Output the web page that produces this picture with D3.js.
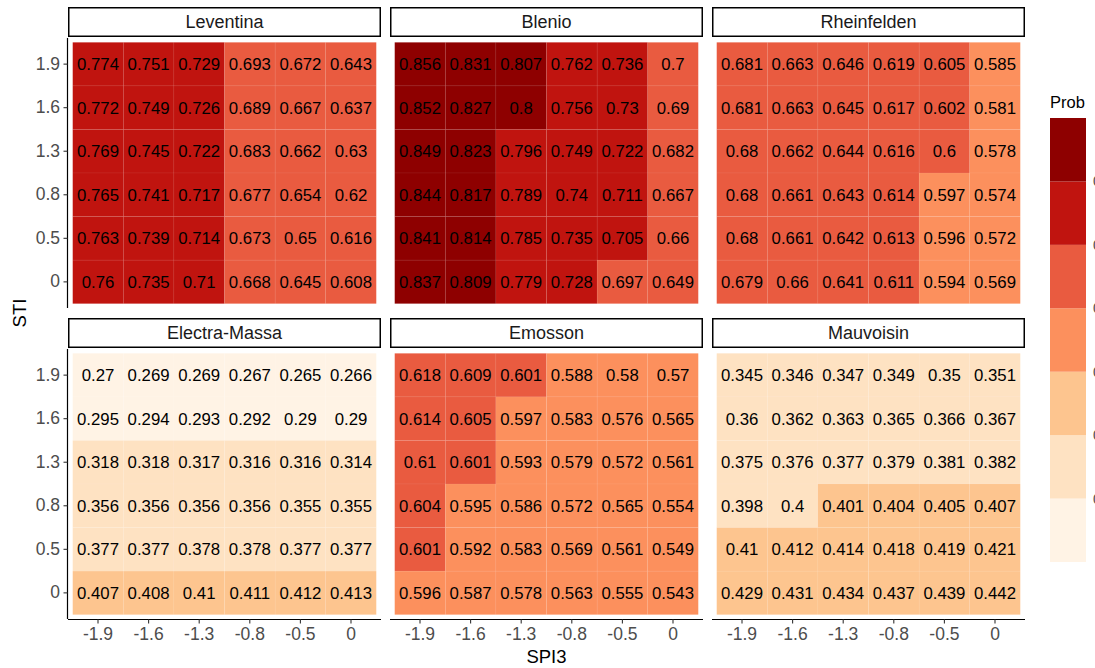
<!DOCTYPE html>
<html>
<head>
<meta charset="utf-8">
<script src="https://cdn.jsdelivr.net/npm/d3@7"></script>
<style>
  body { margin: 0; background: #fff; }
  svg { font-family: "Liberation Sans", Arial, sans-serif; display: block; }
</style>
</head>
<body>
<div id="wrapper"></div>
<script>
// axis categories
const spi3 = ["-1.9", "-1.6", "-1.3", "-0.8", "-0.5", "0"];
const sti = ["1.9", "1.6", "1.3", "0.8", "0.5", "0"];   // top to bottom
const sites = ["Leventina", "Blenio", "Rheinfelden", "Electra-Massa", "Emosson", "Mauvoisin"];

// values, rows follow sti (1.9 ... 0), columns follow spi3 (-1.9 ... 0)
const leventina = [
  [0.774, 0.751, 0.729, 0.693, 0.672, 0.643],
  [0.772, 0.749, 0.726, 0.689, 0.667, 0.637],
  [0.769, 0.745, 0.722, 0.683, 0.662, 0.63],
  [0.765, 0.741, 0.717, 0.677, 0.654, 0.62],
  [0.763, 0.739, 0.714, 0.673, 0.65, 0.616],
  [0.76, 0.735, 0.71, 0.668, 0.645, 0.608]
];
const blenio = [
  [0.856, 0.831, 0.807, 0.762, 0.736, 0.6996],
  [0.852, 0.827, 0.8, 0.756, 0.73, 0.69],
  [0.849, 0.823, 0.796, 0.749, 0.722, 0.682],
  [0.844, 0.817, 0.789, 0.74, 0.711, 0.667],
  [0.841, 0.814, 0.785, 0.735, 0.705, 0.66],
  [0.837, 0.809, 0.779, 0.728, 0.697, 0.649]
];
const rheinfelden = [
  [0.681, 0.663, 0.646, 0.619, 0.605, 0.585],
  [0.681, 0.663, 0.645, 0.617, 0.602, 0.581],
  [0.68, 0.662, 0.644, 0.616, 0.6, 0.578],
  [0.68, 0.661, 0.643, 0.614, 0.597, 0.574],
  [0.68, 0.661, 0.642, 0.613, 0.596, 0.572],
  [0.679, 0.66, 0.641, 0.611, 0.594, 0.569]
];
const electraMassa = [
  [0.27, 0.269, 0.269, 0.267, 0.265, 0.266],
  [0.295, 0.294, 0.293, 0.292, 0.29, 0.29],
  [0.318, 0.318, 0.317, 0.316, 0.316, 0.314],
  [0.356, 0.356, 0.356, 0.356, 0.355, 0.355],
  [0.377, 0.377, 0.378, 0.378, 0.377, 0.377],
  [0.407, 0.408, 0.41, 0.411, 0.412, 0.413]
];
const emosson = [
  [0.618, 0.609, 0.601, 0.588, 0.58, 0.57],
  [0.614, 0.605, 0.597, 0.583, 0.576, 0.565],
  [0.61, 0.601, 0.593, 0.579, 0.572, 0.561],
  [0.604, 0.595, 0.586, 0.572, 0.565, 0.554],
  [0.601, 0.592, 0.583, 0.569, 0.561, 0.549],
  [0.596, 0.587, 0.578, 0.563, 0.555, 0.543]
];
const mauvoisin = [
  [0.345, 0.346, 0.347, 0.349, 0.35, 0.351],
  [0.36, 0.362, 0.363, 0.365, 0.366, 0.367],
  [0.375, 0.376, 0.377, 0.379, 0.381, 0.382],
  [0.398, 0.3996, 0.401, 0.404, 0.405, 0.407],
  [0.41, 0.412, 0.414, 0.418, 0.419, 0.421],
  [0.429, 0.431, 0.434, 0.437, 0.439, 0.442]
];
const siteValues = [leventina, blenio, rheinfelden, electraMassa, emosson, mauvoisin];

// binned fill scale
const breaks = [0.3, 0.4, 0.5, 0.6, 0.7, 0.8];
const binColors = ["#fff3e5", "#fee2c2", "#fdc58f", "#fc905d", "#e95b40", "#c0140f", "#8e0000"];

const W = 1095, H = 668;
const dims = {
  left: 68, top: 7,
  panelW: 313, gapX: 9,
  stripH: 30, panelH: 270, gapY: 10
};

const fill = d3.scaleThreshold().domain(breaks).range(binColors);
const fmt = v => String(+v.toFixed(3));

const svg = d3.select("#wrapper").append("svg")
  .attr("width", W).attr("height", H);

const x = d3.scaleBand().domain(spi3).range([0, dims.panelW]).paddingOuter(0.093).paddingInner(0);
const y = d3.scaleBand().domain(sti).range([0, dims.panelH]).paddingOuter(0.1).paddingInner(0);

sites.forEach((site, i) => {
  const col = i % 3, row = Math.floor(i / 3);
  const px = dims.left + col * (dims.panelW + dims.gapX);
  const sy = dims.top + row * (dims.stripH + 1 + dims.panelH + dims.gapY);
  const py = sy + dims.stripH + 1;

  // strip
  const strip = svg.append("g").attr("transform", `translate(${px},${sy})`);
  strip.append("rect")
    .attr("x", 0.75).attr("y", 0.75)
    .attr("width", dims.panelW - 1.5).attr("height", dims.stripH - 1.5)
    .attr("fill", "#fff").attr("stroke", "#000").attr("stroke-width", 1.5);
  strip.append("text")
    .attr("x", dims.panelW / 2).attr("y", dims.stripH / 2)
    .attr("dy", "0.36em").attr("text-anchor", "middle")
    .attr("font-size", 18).attr("fill", "#1a1a1a")
    .text(site);

  const panel = svg.append("g").attr("transform", `translate(${px},${py})`);
  const cells = [];
  siteValues[i].forEach((rowVals, r) => {
    rowVals.forEach((v, c) => cells.push({ sti: sti[r], spi: spi3[c], v: v }));
  });

  panel.selectAll("rect.tile")
    .data(cells)
    .enter()
    .append("rect")
    .attr("class", "tile")
    .attr("x", d => x(d.spi))
    .attr("y", d => y(d.sti))
    .attr("width", x.bandwidth())
    .attr("height", y.bandwidth())
    .attr("fill", d => fill(d.v))
    .attr("stroke", "rgba(255,255,255,0.06)")
    .attr("stroke-width", 0.8);

  panel.selectAll("text.val")
    .data(cells)
    .enter()
    .append("text")
    .attr("class", "val")
    .attr("x", d => x(d.spi) + x.bandwidth() / 2)
    .attr("y", d => y(d.sti) + y.bandwidth() / 2)
    .attr("dy", "0.36em")
    .attr("text-anchor", "middle")
    .attr("font-size", 16.8)
    .attr("fill", "#000")
    .text(d => fmt(d.v));

  // y axis on left column
  if (col === 0) {
    const ax = panel.append("g").call(d3.axisLeft(y).tickSize(4).tickPadding(4));
    ax.select(".domain").attr("d", `M-0.5,0V${dims.panelH}`).attr("stroke", "#000").attr("stroke-width", 1.2);
    ax.selectAll(".tick line").attr("stroke", "#333").attr("stroke-width", 1.1).attr("x1", -0.5).attr("x2", -4.5);
    ax.selectAll(".tick text").attr("font-size", 17.5).attr("fill", "#4d4d4d").attr("font-family", null);
  }
  // x axis on bottom row
  if (row === 1) {
    const ax = panel.append("g")
      .attr("transform", `translate(0,${dims.panelH})`)
      .call(d3.axisBottom(x).tickSize(4).tickPadding(5));
    ax.select(".domain").attr("d", `M0,0.5H${dims.panelW}`).attr("stroke", "#000").attr("stroke-width", 1.2);
    ax.selectAll(".tick line").attr("stroke", "#333").attr("stroke-width", 1.1).attr("y1", 0.5).attr("y2", 4.5);
    ax.selectAll(".tick text").attr("font-size", 17.5).attr("fill", "#4d4d4d").attr("font-family", null);
  }
});

// axis titles
const gridBottom = dims.top + 2 * (dims.stripH + 1 + dims.panelH) + dims.gapY;
svg.append("text")
  .attr("transform", `translate(26,${(dims.top + gridBottom) / 2}) rotate(-90)`)
  .attr("text-anchor", "middle").attr("font-size", 18.5).attr("fill", "#000")
  .text("STI");
svg.append("text")
  .attr("x", dims.left + (3 * dims.panelW + 2 * dims.gapX) / 2)
  .attr("y", 663)
  .attr("text-anchor", "middle").attr("font-size", 18.5).attr("fill", "#000")
  .text("SPI3");

// legend
const legend = svg.append("g").attr("transform", "translate(1050,0)");
const legY = d3.scaleLinear().domain([0.2, 0.9]).range([562, 118]);
const legBins = [0.2].concat(breaks).map((b, k, arr) => [b, k < arr.length - 1 ? arr[k + 1] : 0.9]);
legend.append("text")
  .attr("x", 0).attr("y", 108)
  .attr("font-size", 16.5).attr("fill", "#000")
  .text("Prob");
legend.selectAll("rect")
  .data(legBins)
  .enter()
  .append("rect")
  .attr("x", 0)
  .attr("y", d => legY(d[1]))
  .attr("width", 36)
  .attr("height", d => legY(d[0]) - legY(d[1]))
  .attr("fill", d => fill(d[0]));
legend.selectAll("text.lab")
  .data(breaks)
  .enter()
  .append("text")
  .attr("class", "lab")
  .attr("x", 43)
  .attr("y", d => legY(d))
  .attr("dy", "0.36em")
  .attr("font-size", 14)
  .attr("fill", "#4d4d4d")
  .text(d => d);
</script>
</body>
</html>
